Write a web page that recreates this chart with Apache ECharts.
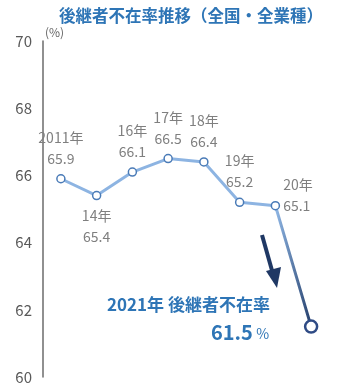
<!DOCTYPE html>
<html>
<head>
<meta charset="utf-8">
<script src="https://cdn.jsdelivr.net/npm/echarts@6/dist/echarts.min.js"></script>
<style>
  html, body { margin: 0; padding: 0; background: #fff; }
  #container { width: 351px; height: 389px; }
</style>
</head>
<body>
<div id="container"></div>
<script>
// 年（ラベル用）
var years = ['2011年', '14年', '16年', '17年', '18年', '19年', '20年', '2021年'];
// 後継者不在率 (%)
var rates = [65.9, 65.4, 66.1, 66.5, 66.4, 65.2, 65.1, 61.5];
// ラベル位置
var labelPos = ['top', 'bottom', 'top', 'top', 'top', 'top', 'right', 'none'];
var yTicks = [60, 62, 64, 66, 68, 70];

var FONT = '"Noto Sans CJK JP", "Noto Sans", sans-serif';
var lightBlue = '#8db4e2';
var navy = '#1f3864';

var dom = document.getElementById('container');
var myChart = echarts.init(dom);

var seriesData = [];
for (var i = 0; i < rates.length; i++) {
    var item = { value: rates[i] };
    if (labelPos[i] === 'none') {
        item.label = { show: false };
        item.symbolSize = 12;
        item.itemStyle = { color: '#fff', borderColor: '#2f4b85', borderWidth: 2.5 };
    } else if (labelPos[i] === 'right') {
        item.label = { position: 'right', distance: 3, offset: [0, -10], align: 'left' };
    } else {
        item.label = { position: labelPos[i], distance: 5 };
    }
    seriesData.push(item);
}

var option = {
    backgroundColor: '#fff',
    animation: false,
    title: {
        text: '後継者不在率推移（全国・全業種）',
        left: 54,
        top: 2,
        textStyle: { color: '#2e75b6', fontSize: 16.5, fontWeight: 'bold', fontFamily: FONT }
    },
    grid: { left: 43, right: 22, top: 41, bottom: 12 },
    xAxis: {
        type: 'category',
        data: years,
        boundaryGap: true,
        show: false
    },
    yAxis: {
        type: 'value',
        min: yTicks[0],
        max: yTicks[yTicks.length - 1],
        interval: 2,
        name: '(%)',
        nameLocation: 'end',
        nameGap: 3,
        nameTextStyle: { color: '#666', fontSize: 12, align: 'left', fontFamily: FONT, padding: [0, 0, 0, 2] },
        axisLine: { show: true, lineStyle: { color: '#6b6b6b', width: 1.5 } },
        axisTick: { show: false },
        splitLine: { show: false },
        axisLabel: { color: '#595959', fontSize: 15, margin: 11, fontFamily: FONT }
    },
    series: [{
        type: 'line',
        data: seriesData,
        symbol: 'circle',
        symbolSize: 8,
        itemStyle: { color: '#fff', borderColor: '#4a7bb7', borderWidth: 1.5 },
        lineStyle: {
            width: 3,
            color: new echarts.graphic.LinearGradient(0, 0, 1, 0, [
                { offset: 0, color: lightBlue },
                { offset: 0.855, color: lightBlue },
                { offset: 1, color: navy }
            ])
        },
        label: {
            show: true,
            formatter: function (p) { return years[p.dataIndex] + '\n' + p.value.toFixed(1); },
            color: '#7f7f7f',
            fontSize: 14,
            lineHeight: 21,
            fontFamily: FONT
        },
        z: 3
    }],
    graphic: [
        // 矢印
        {
            type: 'line',
            shape: { x1: 262, y1: 235, x2: 273, y2: 274 },
            style: { stroke: navy, lineWidth: 4 }
        },
        {
            type: 'polygon',
            shape: { points: [[266, 271], [281, 267], [277, 288]] },
            style: { fill: navy }
        },
        {
            type: 'text',
            left: 107,
            top: 296,
            style: {
                text: '2021年 後継者不在率',
                fill: '#2e75b6',
                font: 'bold 17px ' + FONT
            }
        },
        {
            type: 'text',
            left: 211,
            top: 322,
            style: {
                text: '{a|61.5} {b|%}',
                rich: {
                    a: { fill: '#2e75b6', fontSize: 20, fontWeight: 'bold', fontFamily: FONT },
                    b: { fill: '#2e75b6', fontSize: 14, fontFamily: FONT, padding: [4, 0, 0, 0] }
                }
            }
        }
    ]
};

myChart.setOption(option);
</script>
</body>
</html>
